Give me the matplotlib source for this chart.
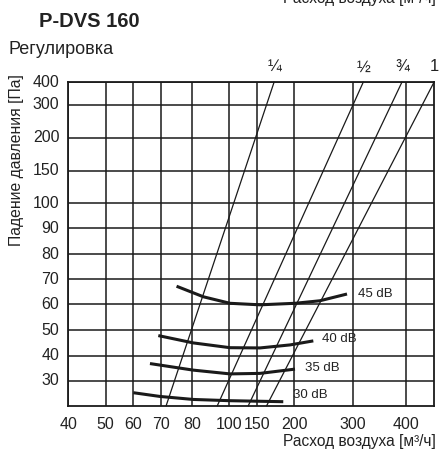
import numpy as np
import matplotlib
matplotlib.use("Agg")
import matplotlib.pyplot as plt

plt.rcParams['font.family'] = ['Liberation Sans', 'DejaVu Sans']

# ---- data ----
x_ticks = [40, 50, 60, 70, 80, 100, 150, 200, 300, 400]
y_ticks = [30, 40, 50, 60, 70, 80, 90, 100, 150, 200, 300, 400]

# regulation lines (air flow m3/h at bottom and top of chart, pressure Pa)
reg_labels = ['¼', '½', '¾', '1']
reg_flow = [
    [71.7, 173],
    [93.6, 320],
    [134.4, 392],
    [163, 450],
]
reg_pres = [20, 400]

# sound level curves
db_labels = ['45 dB', '40 dB', '35 dB', '30 dB']
db_flow = [
    [75, 86, 101.6, 154, 201.5, 244, 290.6],
    [69.1, 80.5, 101.6, 154, 194.5, 232.9],
    [66.1, 80.5, 101.6, 154, 201.5],
    [60.1, 69.7, 80.5, 101.6, 185.4],
]
db_pres = [
    [67.2, 63, 60.4, 59.8, 60.4, 61.4, 64.1],
    [47.9, 45, 43.1, 43, 44.2, 45.8],
    [36.8, 34.2, 32.7, 32.9, 34.6],
    [25.2, 23.7, 22.5, 22, 21.6],
]

# ---- chart scale definition (irregular grid of the original nomogram) ----
xs_val = np.array([40, 50, 60, 70, 80, 100, 150, 200, 300, 400, 450], float)
xs_pos = np.array([68.3, 105.7, 133, 160.8, 192.3, 229.1, 257, 294.1, 352.5, 406.2, 434.0])
ys_val = np.array([20, 30, 40, 50, 60, 70, 80, 90, 100, 150, 200, 300, 400], float)
ys_pix = np.array([405.7, 380.7, 355.5, 330.3, 304.3, 279.2, 254.2, 228.3, 203.3, 170.7, 138.0, 104.7, 82.2])
ys_pos = 405.7 - ys_pix

def fx(v):
    return np.interp(v, xs_val, xs_pos)
def ifx(p):
    return np.interp(p, xs_pos, xs_val)
def fy(v):
    return np.interp(v, ys_val, ys_pos)
def ify(p):
    return np.interp(p, ys_pos, ys_val)

W, H = 443, 449
fig = plt.figure(figsize=(W / 100, H / 100), dpi=100)
ax = fig.add_axes([68.3 / W, 1 - 405.7 / H, (434 - 68.3) / W, (405.7 - 82.2) / H])
ax.set_xscale('function', functions=(fx, ifx))
ax.set_yscale('function', functions=(fy, ify))
ax.set_xlim(40, 450)
ax.set_ylim(20, 400)

ax.set_xticks(x_ticks)
ax.set_xticklabels([str(v) for v in x_ticks])
ax.set_yticks(y_ticks)
ax.set_yticklabels([str(v) for v in y_ticks])
ax.xaxis.set_minor_locator(matplotlib.ticker.NullLocator())
ax.yaxis.set_minor_locator(matplotlib.ticker.NullLocator())
ax.tick_params(axis='both', length=0, labelsize=11.5, colors='#222222')
ax.tick_params(axis='x', pad=8)
ax.tick_params(axis='y', pad=6.5)
for lab in ax.get_yticklabels():
    lab.set_verticalalignment('center')
ax.grid(True, color='#1a1a1a', linewidth=1.1)
ax.set_axisbelow(True)
for s in ax.spines.values():
    s.set_color('#1a1a1a')
    s.set_linewidth(1.3)

# regulation lines
for lab, fl in zip(reg_labels, reg_flow):
    ax.plot(fl, reg_pres, color='#1a1a1a', lw=0.9, clip_on=False)
    ax.annotate(lab, xy=(fl[-1], 400), xytext=(0, 11), textcoords='offset points',
                ha='center', va='center', fontsize=12, color='#222222',
                annotation_clip=False)

# sound curves
offs = [(8, 0), (6, 1), (7, 0.5), (7, 5)]
for lab, fl, pr, off in zip(db_labels, db_flow, db_pres, offs):
    ax.plot(fl, pr, color='#1a1a1a', lw=2.2, solid_capstyle='butt',
            solid_joinstyle='round')
    ax.annotate(lab, xy=(fl[-1], pr[-1]), xytext=off, textcoords='offset points',
                ha='left', va='center', fontsize=9.5, color='#222222')

# texts
fig.text(39 / W, 1 - 21.5 / H, 'P-DVS 160', fontsize=14.5, fontweight='bold',
         ha='left', va='center', color='#222222')
fig.text(8 / W, 1 - 50 / H, 'Регулировка', fontsize=13, ha='left', va='center',
         color='#222222')
fig.text(17 / W, 1 - 160 / H, 'Падение давления [Па]', fontsize=11.3, rotation=90,
         ha='center', va='center', color='#222222')
fig.text(436 / W, 1 - 441.5 / H, 'Расход воздуха [м³/ч]', fontsize=11.2,
         ha='right', va='center', color='#222222')
fig.text(436 / W, 1 - 3 / H, 'Расход воздуха [м³/ч]', fontsize=11.2,
         ha='right', va='baseline', color='#222222')

fig.savefig('out.png', dpi=100)
